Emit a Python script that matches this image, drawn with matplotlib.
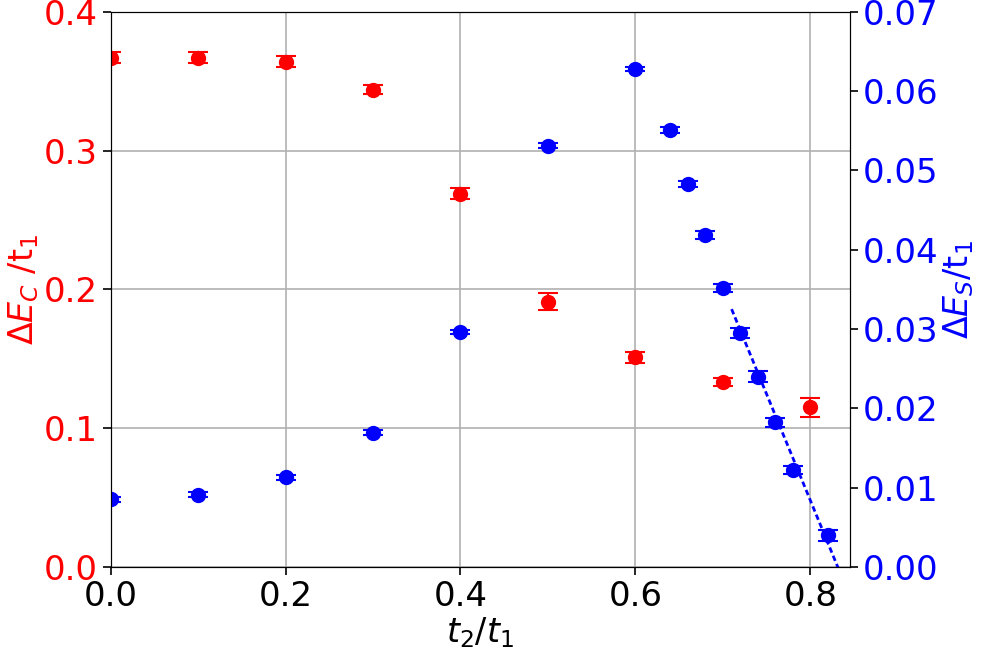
import numpy as np
import matplotlib
matplotlib.use("Agg")
import matplotlib.pyplot as plt

# charge gap (left axis)
xC = [0.0, 0.1, 0.2, 0.3, 0.4, 0.5, 0.6, 0.7, 0.8]
EC = [0.367, 0.367, 0.364, 0.344, 0.269, 0.191, 0.151, 0.133, 0.115]
EC_err = [0.004, 0.004, 0.004, 0.003, 0.004, 0.006, 0.004, 0.003, 0.007]

# spin gap (right axis)
xS = [0.0, 0.1, 0.2, 0.3, 0.4, 0.5, 0.6, 0.64, 0.66, 0.68, 0.70, 0.72, 0.74, 0.76, 0.78, 0.82]
ES = [0.0085, 0.0091, 0.0113, 0.0169, 0.0296, 0.0531, 0.0628, 0.0551, 0.0483,
      0.0419, 0.0352, 0.0295, 0.0240, 0.0182, 0.0122, 0.0040]
ES_err = [0.0003, 0.0003, 0.0003, 0.0003, 0.0003, 0.0003, 0.0003, 0.0004, 0.0004,
          0.0005, 0.0005, 0.0006, 0.0007, 0.0006, 0.0005, 0.0007]

# linear extrapolation of the spin gap
x_fit = [0.71, 0.835]
y_fit = [0.0325, -0.0010]

fig = plt.figure(figsize=(9.88, 6.56), dpi=100)
ax = fig.add_axes([0.112, 0.136, 0.748, 0.846])
ax2 = ax.twinx()

ax.errorbar(xC, EC, yerr=EC_err, fmt="o", color="red", markersize=10, capsize=7, elinewidth=1.5, capthick=1.5)
ax2.errorbar(xS, ES, yerr=ES_err, fmt="o", color="blue", markersize=10, capsize=7, elinewidth=1.5, capthick=1.5)
ax2.plot(x_fit, y_fit, color="blue", linewidth=2, dashes=(2, 1.2))

ax.set_xlim(0, 0.845)
ax.set_ylim(0, 0.4)
ax2.set_ylim(0, 0.07)
ax.set_xticks([0.0, 0.2, 0.4, 0.6, 0.8])
ax.set_yticks([0.0, 0.1, 0.2, 0.3, 0.4])
ax2.set_yticks(np.arange(0, 0.071, 0.01))
ax2.set_yticklabels([f"{v:.2f}" for v in np.arange(0, 0.071, 0.01)])
ax.grid(True, color="#b0b0b0", linewidth=1.2)
ax.set_axisbelow(True)

ax.tick_params(axis="both", labelsize=24.5, length=6, width=1.2)
ax.tick_params(axis="y", labelcolor="red")
ax2.tick_params(axis="y", labelsize=24.5, labelcolor="blue", length=6, width=1.2)

ax.set_xlabel(r"$t_2/t_1$", fontsize=24, labelpad=2)
ax.set_ylabel(r"$\Delta E_C$ /t$_1$", fontsize=24, color="red", labelpad=2)
ax2.set_ylabel(r"$\Delta E_S$/t$_1$", fontsize=24, color="blue", labelpad=2)

fig.savefig("out.png", dpi=100)
